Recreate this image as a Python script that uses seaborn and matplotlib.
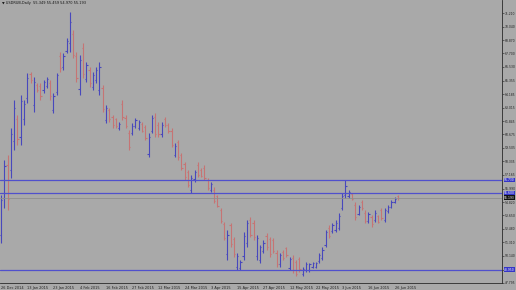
import numpy as np
import pandas as pd
import matplotlib
matplotlib.use("Agg")
import matplotlib.pyplot as plt
import matplotlib.transforms as mtransforms
import seaborn as sns

# ---------------- data (USDRUB daily OHLC) ----------------
opens = [52.0, 55.2, 58.0, 57.6, 60.1, 62.0, 60.5, 62.0, 63.8, 65.9,
         63.2, 65.0, 64.9, 64.5, 64.9, 65.1, 62.8, 64.4, 67.5, 66.5,
         67.9, 68.6, 69.4, 67.5, 64.6, 68.2, 65.5, 66.3, 64.8, 65.4,
         64.5, 64.7, 61.9, 62.8, 62.2, 62.0, 61.2, 63.3, 62.1, 60.8,
         60.8, 61.4, 61.2, 61.6, 61.3, 59.0, 61.0, 62.2, 61.5, 60.7,
         62.0, 61.5, 61.0, 58.9, 60.0, 58.9, 58.1, 57.4, 55.9, 56.8,
         58.0, 57.6, 57.8, 56.7, 55.9, 55.9, 55.3, 54.1, 52.9, 50.3,
         52.8, 51.6, 49.2, 49.1, 50.1, 51.3, 53.3, 53.0, 50.1, 49.8,
         50.6, 51.9, 51.6, 51.5, 50.4, 49.4, 50.5, 50.8, 49.1, 50.0,
         49.6, 49.9, 48.6, 48.9, 48.9, 49.2, 49.2, 49.7, 50.0, 51.1,
         52.6, 52.3, 52.4, 52.6, 54.3, 55.4, 55.3, 55.5, 54.6, 53.8,
         54.8, 53.9, 53.2, 53.5, 53.3, 53.6, 54.1, 53.3, 54.0, 54.4,
         54.8, 55.349]
highs = [55.43, 58.46, 58.90, 61.24, 63.67, 62.37, 64.10, 63.67, 66.01, 66.10,
         65.66, 65.14, 65.14, 65.40, 65.66, 65.40, 64.27, 66.01, 67.83, 67.74,
         69.04, 71.30, 69.74, 67.83, 67.57, 68.61, 66.96, 66.53, 66.10, 66.53,
         66.96, 64.97, 63.23, 62.97, 62.37, 62.11, 61.76, 63.67, 62.37, 61.07,
         61.67, 62.11, 61.93, 61.76, 61.50, 60.81, 62.37, 62.54, 61.76, 61.76,
         62.19, 61.67, 61.24, 59.94, 60.20, 59.07, 58.29, 57.60, 57.16, 57.60,
         58.29, 57.77, 58.03, 56.90, 56.56, 56.12, 55.43, 54.30, 53.09, 52.39,
         53.00, 51.78, 50.40, 49.79, 52.22, 53.26, 53.52, 53.26, 51.96, 51.09,
         51.52, 52.13, 51.78, 51.70, 50.66, 50.40, 50.66, 50.92, 50.05, 50.22,
         49.79, 50.05, 49.18, 49.62, 49.53, 49.62, 49.62, 50.40, 50.92, 52.39,
         52.83, 53.00, 53.26, 53.87, 55.60, 56.73, 55.86, 55.60, 54.82, 54.56,
         54.99, 54.13, 53.95, 53.69, 54.13, 53.69, 54.30, 54.30, 54.56, 54.99,
         55.25, 55.459]
lows = [51.26, 54.30, 54.13, 56.90, 59.33, 59.76, 59.76, 61.50, 63.41, 65.14,
        62.63, 64.36, 63.67, 64.27, 64.71, 63.67, 62.54, 64.10, 66.10, 66.27,
        67.74, 67.83, 67.31, 65.23, 64.10, 65.57, 65.23, 64.79, 64.53, 65.14,
        64.10, 62.63, 61.67, 61.76, 61.24, 61.24, 61.07, 61.93, 61.24, 59.33,
        60.63, 61.24, 61.07, 60.89, 60.20, 58.72, 60.81, 60.46, 60.46, 60.46,
        61.33, 60.81, 59.59, 58.72, 58.46, 57.60, 56.73, 56.12, 55.60, 56.56,
        56.99, 56.99, 56.73, 55.86, 55.69, 54.73, 54.38, 53.00, 51.52, 49.79,
        50.92, 50.05, 48.92, 48.92, 49.79, 50.92, 51.78, 51.52, 49.79, 49.53,
        50.40, 50.66, 50.05, 50.40, 49.18, 49.18, 49.79, 50.05, 48.92, 48.66,
        48.40, 48.75, 48.40, 48.75, 48.75, 49.10, 49.10, 49.53, 49.79, 50.92,
        51.70, 52.13, 52.22, 52.39, 54.13, 55.17, 55.17, 54.99, 53.26, 53.69,
        54.13, 53.00, 53.00, 52.65, 53.09, 53.00, 53.26, 53.09, 53.87, 54.30,
        54.73, 54.970]
closes = [55.0, 57.9, 55.1, 60.7, 63.0, 60.3, 63.6, 63.3, 65.6, 65.4,
          65.2, 64.5, 64.0, 65.2, 65.5, 64.0, 64.0, 65.8, 66.4, 67.5,
          68.8, 70.4, 67.6, 65.6, 67.1, 65.9, 66.7, 65.1, 65.8, 66.3,
          66.5, 62.9, 63.0, 62.0, 61.5, 61.4, 61.6, 62.2, 61.4, 59.6,
          61.4, 61.9, 61.8, 61.0, 60.4, 60.5, 62.1, 60.7, 60.7, 61.5,
          61.5, 61.0, 59.8, 59.7, 58.7, 57.8, 57.0, 56.3, 56.9, 57.4,
          57.2, 57.1, 56.9, 56.0, 56.4, 54.9, 54.5, 53.2, 51.7, 52.0,
          51.2, 50.3, 50.1, 49.6, 51.9, 53.0, 52.0, 51.8, 51.7, 50.9,
          51.3, 50.9, 50.3, 50.6, 49.4, 50.2, 50.0, 50.2, 49.9, 48.9,
          48.6, 49.0, 49.0, 49.4, 49.4, 49.5, 49.5, 50.2, 50.7, 52.2,
          51.9, 52.8, 53.0, 53.6, 55.3, 56.2, 55.7, 55.1, 53.5, 54.4,
          54.3, 53.2, 53.8, 52.9, 53.9, 53.1, 53.4, 54.1, 54.4, 54.8,
          55.1, 55.193]

date_labels = ["26 Dec 2014", "13 Jan 2015", "23 Jan 2015", "4 Feb 2015",
               "16 Feb 2015", "27 Feb 2015", "12 Mar 2015", "24 Mar 2015",
               "3 Apr 2015", "15 Apr 2015", "27 Apr 2015", "12 May 2015",
               "22 May 2015", "3 Jun 2015", "16 Jun 2015", "26 Jun 2015"]
date_label_bars = [0, 8, 16, 24, 32, 40, 48, 56, 64, 72, 80, 88, 96, 104, 112, 120]

price_ticks = [71.210, 70.040, 68.870, 67.700, 66.530, 65.355, 64.185, 63.015,
               61.845, 60.675, 59.505, 58.335, 57.165, 55.990, 54.820, 53.650,
               52.480, 51.310, 50.140, 48.965, 47.795]

levels = [56.730, 55.600, 48.950]
title_text = "\u25bc USDRUB,Daily  55.349 55.459 54.970 55.193"

# ---------------- styling ----------------
BG = "#a9a9a9"
UP = "#4848bc"
DOWN = "#c67474"
LEVEL = "#5050cc"

sns.set_theme(style="white", rc={"axes.facecolor": BG, "figure.facecolor": BG})
plt.rcParams["font.family"] = ["DejaVu Sans"]

df = pd.DataFrame({"bar": np.arange(len(opens)), "open": opens, "high": highs,
                   "low": lows, "close": closes})
df["dir"] = np.where(df["close"] >= df["open"], "up", "down")

W, H = 516, 290
fig = plt.figure(figsize=(W / 100, H / 100), dpi=100)
ax = fig.add_axes([0, 1 - 283 / H, 502 / W, 283 / H])

for d, col in (("up", UP), ("down", DOWN)):
    s = df[df["dir"] == d]
    ax.vlines(s["bar"], s["low"], s["high"], color=col, lw=0.8)
    ax.hlines(s["open"], s["bar"] - 0.38, s["bar"], color=col, lw=0.8)
    ax.hlines(s["close"], s["bar"], s["bar"] + 0.38, color=col, lw=0.8)

for lv in levels:
    ax.axhline(lv, color=LEVEL, lw=0.9)
ax.axhline(closes[-1], color="#8e8e8e", lw=0.6)

ax.set_xlim(-0.305, 152.74)
ax.set_ylim(47.795, 72.34)

FS = 2.2
ax.yaxis.tick_right()
ax.set_yticks(price_ticks)
ax.set_yticklabels([f"{v:.3f}" for v in price_ticks])
ax.set_xticks(date_label_bars)
ax.set_xticklabels(date_labels, ha="left")
ax.tick_params(axis="both", labelsize=FS, colors="#1e1e1e", length=1.2,
               width=0.4, pad=0.8)
ax.tick_params(axis="x", labelsize=2.5, pad=1.0)

for side in ("left", "top"):
    ax.spines[side].set_visible(False)
for side in ("right", "bottom"):
    ax.spines[side].set_color("#2a2a2a")
    ax.spines[side].set_linewidth(0.6)

trans = mtransforms.blended_transform_factory(ax.transAxes, ax.transData)
for lv in levels:
    ax.text(1.004, lv, f"{lv:.3f}", transform=trans, ha="left", va="center",
            fontsize=FS, color="white", clip_on=False,
            bbox=dict(boxstyle="square,pad=0.15", fc="#3535c8", ec="none"))
ax.text(1.004, closes[-1], f"{closes[-1]:.3f}", transform=trans, ha="left",
        va="center", fontsize=FS, color="white", clip_on=False,
        bbox=dict(boxstyle="square,pad=0.15", fc="#111111", ec="none"))

ax.text(0.003, 0.997, title_text, transform=ax.transAxes, ha="left", va="top",
        fontsize=2.5, color="#111111")

ax.set_xlabel("")
ax.set_ylabel("")
fig.savefig("out.png", dpi=100, facecolor=BG)
